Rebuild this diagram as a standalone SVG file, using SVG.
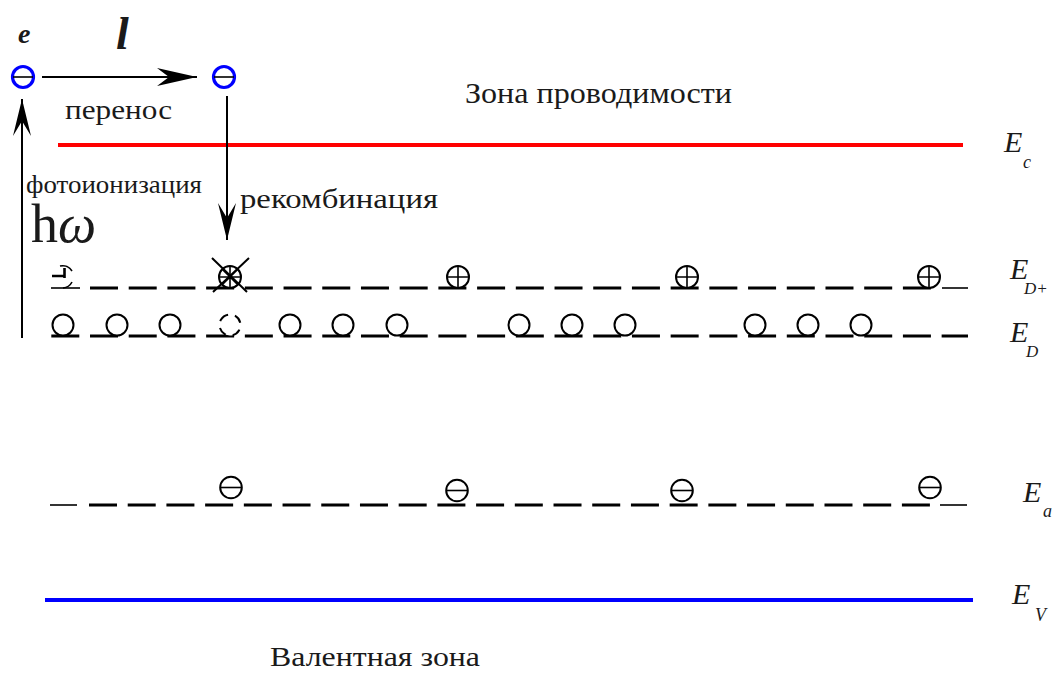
<svg xmlns="http://www.w3.org/2000/svg" width="1058" height="673" viewBox="0 0 1058 673">
  <style>
    .txt { font-family: "Liberation Serif", "Times New Roman", serif; fill: #1a1a1a; }
    .lbl { font-family: "Liberation Serif", "Times New Roman", serif; font-style: italic; fill: #1a1a1a; }
    .lvl { fill: none; stroke: #000; stroke-width: 3; }
    .lvl-thin { fill: none; stroke: #000; stroke-width: 1.6; }
    .dash { stroke-dasharray: 28 10.71; }
    .orb { fill: #fff; stroke: #000; stroke-width: 2; }
    .mark { stroke: #000; stroke-width: 1.6; fill: none; }
    .arrow { stroke: #000; stroke-width: 2; fill: none; }
    .elec { fill: #fff; stroke: #0000ff; stroke-width: 3.2; }
  </style>
  <defs>
    <marker id="head" markerUnits="userSpaceOnUse" orient="auto" refX="0" refY="0" markerWidth="50" markerHeight="20" overflow="visible">
      <path d="M0,0 L-40,-9 L-28,0 L-40,9 Z" fill="#000"/>
    </marker>
    <marker id="headV" markerUnits="userSpaceOnUse" orient="auto" refX="0" refY="0" markerWidth="50" markerHeight="20" overflow="visible">
      <path d="M0,0 L-37,-9 L-22,0 L-37,9 Z" fill="#000"/>
    </marker>
    <g id="plus">
      <circle class="orb" r="11"/>
      <path class="mark" d="M-11,0 H11 M0,-11 V11"/>
    </g>
    <g id="minus">
      <circle class="orb" r="10.8"/>
      <path class="mark" d="M-10.8,0 H10.8"/>
    </g>
    <circle id="donor" class="orb" r="10.5"/>
  </defs>

  <!-- band edges -->
  <g id="conduction-band">
    <line x1="58" y1="145" x2="963" y2="145" stroke="#ff0000" stroke-width="4"/>
    <text class="txt" x="465" y="103" font-size="29" textLength="267" lengthAdjust="spacingAndGlyphs">Зона проводимости</text>
    <text class="lbl" x="1004" y="152" font-size="30">E</text>
    <text class="lbl" x="1023" y="168" font-size="18">c</text>
  </g>
  <g id="valence-band">
    <line x1="45" y1="600" x2="973" y2="600" stroke="#0000ff" stroke-width="4"/>
    <text class="txt" x="270" y="666" font-size="27" textLength="210" lengthAdjust="spacingAndGlyphs">Валентная зона</text>
    <text class="lbl" x="1012" y="604" font-size="30">E</text>
    <text class="lbl" x="1035" y="621" font-size="18">V</text>
  </g>

  <!-- ionised donor level E_D+ -->
  <g id="level-ED-plus">
    <line class="lvl-thin" x1="51" y1="288" x2="80" y2="288"/>
    <path class="lvl dash" d="M90,288 H931"/>
    <line class="lvl-thin" x1="942" y1="288" x2="968" y2="288"/>
    <!-- partially drawn centre at the left end -->
    <path class="mark" d="M60,266 A11,11 0 0,1 72,271 M72,282 A11,11 0 0,1 63,288" stroke-width="1.8"/>
    <path d="M52,276 H65 M64.5,268 V278" stroke="#000" stroke-width="2.6" fill="none"/>
    <!-- recombination centre -->
    <circle class="orb" cx="230" cy="277" r="11"/>
    <path class="mark" d="M219,277 H241 M230,266 V288 M222.2,269.2 L237.8,284.8 M237.8,269.2 L222.2,284.8"/>
    <path d="M212,258 L247,292 M249,258 L213,292" stroke="#000" stroke-width="2" fill="none"/>
    <use href="#plus" x="458" y="277"/>
    <use href="#plus" x="687" y="277"/>
    <use href="#plus" x="929" y="277"/>
    <text class="lbl" x="1010" y="279" font-size="30">E</text>
    <text class="lbl" x="1024" y="294" font-size="17">D+</text>
  </g>

  <!-- neutral donor level E_D -->
  <g id="level-ED">
    <path class="lvl dash" d="M51.3,336 H968"/>
    <use href="#donor" x="63" y="325"/>
    <use href="#donor" x="117" y="325"/>
    <use href="#donor" x="170" y="325"/>
    <circle cx="230" cy="325" r="10.5" fill="#fff" stroke="#000" stroke-width="2" stroke-dasharray="9 7" transform="rotate(-150 230 325)"/>
    <use href="#donor" x="290" y="325"/>
    <use href="#donor" x="343" y="325"/>
    <use href="#donor" x="397" y="325"/>
    <use href="#donor" x="519" y="325"/>
    <use href="#donor" x="572" y="325"/>
    <use href="#donor" x="625" y="325"/>
    <use href="#donor" x="755" y="325"/>
    <use href="#donor" x="808" y="325"/>
    <use href="#donor" x="861" y="325"/>
    <text class="lbl" x="1010" y="342" font-size="30">E</text>
    <text class="lbl" x="1026" y="357" font-size="17">D</text>
  </g>

  <!-- acceptor level E_a -->
  <g id="level-Ea">
    <line class="lvl-thin" x1="50" y1="505" x2="77" y2="505"/>
    <path class="lvl dash" d="M89,505 H930"/>
    <line class="lvl-thin" x1="940" y1="505" x2="967" y2="505"/>
    <use href="#minus" x="231" y="487.5"/>
    <use href="#minus" x="457" y="490.5"/>
    <use href="#minus" x="682" y="490.5"/>
    <use href="#minus" x="930" y="487.5"/>
    <text class="lbl" x="1023" y="502" font-size="30">E</text>
    <text class="lbl" x="1043" y="517" font-size="18">a</text>
  </g>

  <!-- free electrons -->
  <g id="electron-start">
    <circle class="elec" cx="23" cy="77" r="10.5"/>
    <line x1="13" y1="77" x2="33" y2="77" stroke="#000" stroke-width="1.6"/>
    <text class="lbl" x="18" y="43" font-size="28" font-weight="bold">e</text>
  </g>
  <g id="electron-end">
    <circle class="elec" cx="224" cy="77" r="10.5"/>
    <line x1="214" y1="77" x2="234" y2="77" stroke="#000" stroke-width="1.6"/>
  </g>

  <!-- transitions -->
  <g id="connectors">
    <line class="arrow" x1="22" y1="338" x2="22" y2="99" marker-end="url(#headV)"/>
    <line class="arrow" x1="42" y1="77" x2="197" y2="77" stroke-width="3" marker-end="url(#head)"/>
    <line class="arrow" x1="227" y1="96" x2="227" y2="240" marker-end="url(#headV)"/>
  </g>

  <!-- transition labels -->
  <g id="labels">
    <text class="lbl" x="116" y="49" font-size="46" font-weight="bold">l</text>
    <text class="txt" x="65" y="119" font-size="27" textLength="107" lengthAdjust="spacingAndGlyphs">перенос</text>
    <text class="txt" x="26" y="193" font-size="25" textLength="176" lengthAdjust="spacingAndGlyphs">фотоионизация</text>
    <text class="txt" x="31" y="242" font-size="54">h<tspan font-style="italic">ω</tspan></text>
    <text class="txt" x="240" y="208" font-size="27" textLength="198" lengthAdjust="spacingAndGlyphs">рекомбинация</text>
  </g>
</svg>
